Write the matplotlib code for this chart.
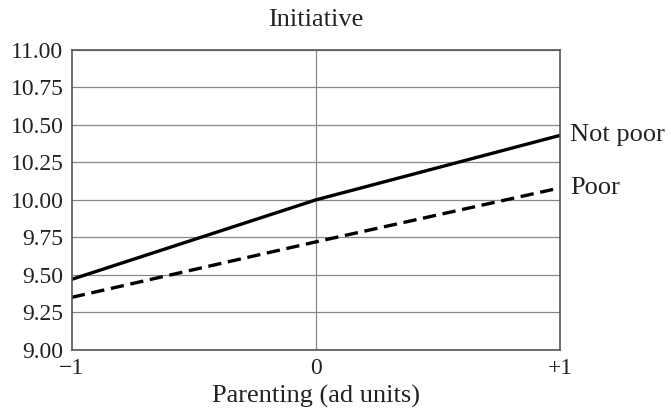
import matplotlib
matplotlib.use('Agg')
import matplotlib.pyplot as plt

# 数据
parenting = [-1, 0, 1]
not_poor = [9.47, 10.0, 10.43]
poor = [9.35, 9.72, 10.08]
y_ticks = [9.00, 9.25, 9.50, 9.75, 10.00, 10.25, 10.50, 10.75, 11.00]
x_tick_labels = ['\u22121', '0', '+1']

plt.rcParams['font.family'] = ['Liberation Serif', 'DejaVu Serif']

fig = plt.figure(figsize=(6.71, 4.15), dpi=100)
ax = fig.add_axes([0.107, 0.157, 0.728, 0.723])

ax.plot(parenting, not_poor, color='black', linewidth=2.4, solid_capstyle='butt')
ax.plot(parenting, poor, color='black', linewidth=2.4, linestyle=(0, (4, 2)))

ax.set_xlim(-1, 1)
ax.set_ylim(9.0, 11.0)
ax.set_yticks(y_ticks)
ax.set_yticklabels(['%.2f' % v for v in y_ticks])
ax.set_xticks(parenting)
ax.set_xticklabels(x_tick_labels)
ax.tick_params(axis='both', length=0, labelsize=17, colors='#222222', pad=6)

# 网格线
for v in y_ticks:
    ax.axhline(v, color='#888888', linewidth=0.9, zorder=0)
ax.axvline(0, color='#888888', linewidth=0.9, zorder=0)
for s in ax.spines.values():
    s.set_color('#555555')
    s.set_linewidth(1.2)

ax.set_title('Initiative', fontsize=19, color='#222222', pad=17)
ax.set_xlabel('Parenting (ad units)', fontsize=19, color='#222222', labelpad=4)

ax.text(1.02, not_poor[-1], 'Not poor', fontsize=19, va='center', ha='left',
        transform=ax.get_yaxis_transform(), color='#222222', clip_on=False)
ax.text(1.02, poor[-1], 'Poor', fontsize=19, va='center', ha='left',
        transform=ax.get_yaxis_transform(), color='#222222', clip_on=False)

fig.savefig('out.png', dpi=100)
